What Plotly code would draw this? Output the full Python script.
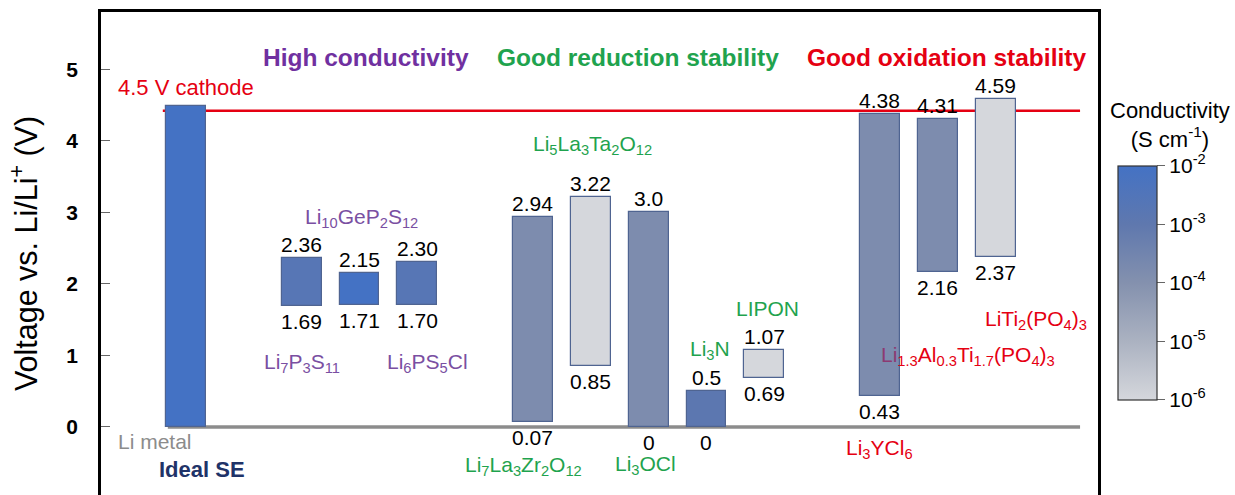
import plotly.graph_objects as go

# ---------------- data ----------------
materials = ["Ideal SE", "Li7P3S11", "Li10GeP2S12", "Li6PS5Cl", "Li7La3Zr2O12",
             "Li5La3Ta2O12", "Li3OCl", "Li3N", "LIPON", "Li3YCl6",
             "Li1.3Al0.3Ti1.7(PO4)3", "LiTi2(PO4)3"]
lower_v = [0.0, 1.69, 1.71, 1.70, 0.07, 0.85, 0.0, 0.0, 0.69, 0.43, 2.16, 2.37]
upper_v = [4.48, 2.36, 2.15, 2.30, 2.94, 3.22, 3.0, 0.5, 1.07, 4.38, 4.31, 4.59]
upper_txt = ["", "2.36", "2.15", "2.30", "2.94", "3.22", "3.0", "0.5", "1.07", "4.38", "4.31", "4.59"]
lower_txt = ["", "1.69", "1.71", "1.70", "0.07", "0.85", "0", "0", "0.69", "0.43", "2.16", "2.37"]
log_conductivity = [-2.0, -2.7, -2.0, -2.7, -3.8, -6.0, -3.8, -2.9, -6.0, -3.8, -3.8, -6.0]
cathode_v = 4.42
li_metal_v = 0.0
cbar_ticks = [-6, -5, -4, -3, -2]
cbar_ticktext = ["10<sup>-6</sup>", "10<sup>-5</sup>", "10<sup>-4</sup>", "10<sup>-3</sup>", "10<sup>-2</sup>"]

# slot order on the x axis (gaps separate the groups)
slot_order = ["Ideal SE", None, "Li7P3S11", "Li10GeP2S12", "Li6PS5Cl", None,
              "Li7La3Zr2O12", "Li5La3Ta2O12", "Li3OCl", "Li3N", "LIPON", None,
              "Li3YCl6", "Li1.3Al0.3Ti1.7(PO4)3", "LiTi2(PO4)3"]
xpos = [slot_order.index(m) for m in materials]
heights = [u - l for u, l in zip(upper_v, lower_v)]

FONT = "Arial, Liberation Sans, sans-serif"
PURPLE = "#7030a0"
PURPLE_L = "#7a4fa2"
GREEN = "#1fa34e"
RED = "#e50012"
NAVY = "#1f3368"

fig = go.Figure()
fig.add_trace(go.Bar(
    x=xpos, y=heights, base=lower_v, width=0.69,
    marker=dict(color=log_conductivity, coloraxis="coloraxis",
                line=dict(color="#4f6491", width=1.2)),
    hoverinfo="skip", showlegend=False,
))

annotations = []
for x, u, l, ut, lt in zip(xpos, upper_v, lower_v, upper_txt, lower_txt):
    if ut:
        annotations.append(dict(x=x, y=u, text=ut, xref="x", yref="y", showarrow=False,
                                yanchor="bottom", yshift=0, font=dict(size=21, color="black", family=FONT)))
    if lt:
        annotations.append(dict(x=x, y=l, text=lt, xref="x", yref="y", showarrow=False,
                                yanchor="top", yshift=-2, font=dict(size=21, color="black", family=FONT)))

def lab(x, y, text, color, size=21, bold=False, xanchor="center"):
    t = f"<b>{text}</b>" if bold else text
    annotations.append(dict(x=x, y=y, text=t, xref="x", yref="y", showarrow=False,
                            xanchor=xanchor, yanchor="middle",
                            font=dict(size=size, color=color, family=FONT)))

# group titles
lab(3.11, 5.17, "High conductivity", PURPLE, size=24.5, bold=True)
lab(7.81, 5.17, "Good reduction stability", GREEN, size=24.5, bold=True)
lab(13.15, 5.17, "Good oxidation stability", RED, size=24.5, bold=True)
# material labels
lab(0.28, -0.60, "Ideal SE", NAVY, size=22, bold=True)
lab(3.03, 2.92, "Li<sub>10</sub>GeP<sub>2</sub>S<sub>12</sub>", PURPLE_L)
lab(2.0, 0.90, "Li<sub>7</sub>P<sub>3</sub>S<sub>11</sub>", PURPLE_L)
lab(4.17, 0.90, "Li<sub>6</sub>PS<sub>5</sub>Cl", PURPLE_L)
lab(7.03, 3.94, "Li<sub>5</sub>La<sub>3</sub>Ta<sub>2</sub>O<sub>12</sub>", GREEN)
lab(5.84, -0.55, "Li<sub>7</sub>La<sub>3</sub>Zr<sub>2</sub>O<sub>12</sub>", GREEN)
lab(7.95, -0.53, "Li<sub>3</sub>OCl", GREEN)
lab(9.06, 1.08, "Li<sub>3</sub>N", GREEN)
lab(10.06, 1.66, "LIPON", GREEN)
lab(12.0, -0.31, "Li<sub>3</sub>YCl<sub>6</sub>", RED)
lab(13.78, 1.50, "LiTi<sub>2</sub>(PO<sub>4</sub>)<sub>3</sub>", RED, xanchor="left")
lab(13.52, 0.99, "<span style='color:#8c3a72'>Li</span><sub>1.3</sub>Al<sub>0.3</sub>Ti<sub>1.7</sub>(PO<sub>4</sub>)<sub>3</sub>", RED)

# line labels (paper x)
annotations.append(dict(x=0.015, y=4.74, xref="paper", yref="y", text="4.5 V cathode", showarrow=False,
                        xanchor="left", yanchor="middle", font=dict(size=22, color=RED, family=FONT)))
annotations.append(dict(x=0.015, y=-0.20, xref="paper", yref="y", text="Li metal", showarrow=False,
                        xanchor="left", yanchor="middle", font=dict(size=21, color="#8c8c8c", family=FONT)))
# colorbar title
annotations.append(dict(x=1.072, y=0.766, xref="paper", yref="paper",
                        text="Conductivity<br>(S cm<sup>-1</sup>)", showarrow=False,
                        xanchor="center", yanchor="middle", align="center",
                        font=dict(size=22, color="black", family=FONT)))

shapes = [
    dict(type="line", xref="paper", yref="y", x0=0.062, x1=0.982, y0=cathode_v, y1=cathode_v,
         line=dict(color=RED, width=2.5), layer="below"),
    dict(type="line", xref="paper", yref="y", x0=0.067, x1=0.982, y0=li_metal_v, y1=li_metal_v,
         line=dict(color="#8c8c8c", width=3.5), layer="below"),
]

fig.update_layout(
    width=1235, height=495,
    margin=dict(l=101, r=137, t=12, b=0),
    paper_bgcolor="white", plot_bgcolor="white",
    font=dict(family=FONT, color="black"),
    bargap=0,
    xaxis=dict(range=[-1.47, 15.77], side="top", showline=True, linecolor="black", linewidth=2.5,
               showticklabels=False, ticks="", showgrid=False, zeroline=False, fixedrange=True),
    yaxis=dict(range=[-0.951, 5.80], tickvals=[0, 1, 2, 3, 4, 5], ticks="inside", ticklen=9,
               tickcolor="#666", tickwidth=1, showline=True, mirror=True, linecolor="black",
               linewidth=2.5, showgrid=False, zeroline=False, ticklabelstandoff=16,
               tickfont=dict(size=21, family=FONT, color="black", weight="bold"),
               title=dict(text="Voltage vs. Li/Li<sup>+</sup> (V)", standoff=20,
                          font=dict(size=30.5, family=FONT, color="black"))),
    coloraxis=dict(
        cmin=-6, cmax=-2,
        colorscale=[[0.0, "#d5d7dc"], [0.25, "#abb2c1"], [0.5, "#8491ae"],
                    [0.75, "#5f78ae"], [1.0, "#4472c4"]],
        colorbar=dict(x=1.02, xanchor="left", xref="paper", y=0.439, yanchor="middle",
                      xpad=0, ypad=0,
                      len=234, lenmode="pixels", thickness=39, thicknessmode="pixels",
                      outlinecolor="#333", outlinewidth=1.2,
                      tickvals=cbar_ticks, ticktext=cbar_ticktext, ticks="outside",
                      ticklen=8, tickcolor="#666",
                      tickfont=dict(size=21, family=FONT, color="black")),
    ),
    annotations=annotations,
    shapes=shapes,
)

fig.write_html("out.html", config={"displayModeBar": False},
               post_script="document.body.style.margin='0';document.body.style.overflow='hidden';")
